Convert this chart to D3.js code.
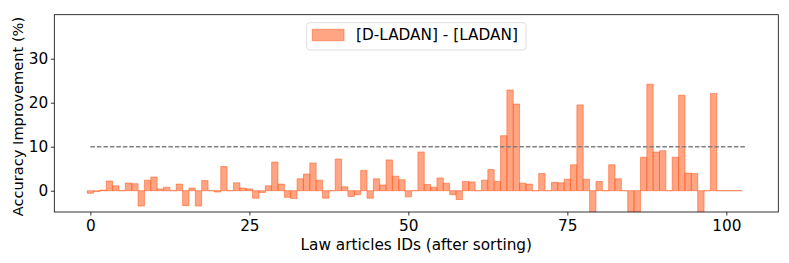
<!DOCTYPE html>
<html>
<head>
<meta charset="utf-8">
<script src="https://cdn.jsdelivr.net/npm/d3@7"></script>
<style>
  body { margin: 0; background: #fff; }
  svg { font-family: "DejaVu Sans", sans-serif; }
</style>
</head>
<body>
<div class="plot"></div>
<script>
// accuracy gain per law article (sorted), one value per article id
var improvement = [
  -0.6, -0.2, 0.15, 2.2, 1.1, 0, 1.75, 1.6, -3.5, 2.4,
  3.1, 0.4, 0.8, 0, 1.5, -3.4, 0.6, -3.5, 2.3, 0,
  -0.3, 5.5, 0, 1.8, 0.6, 0.4, -1.7, -0.4, 1.1, 6.5,
  1.5, -1.5, -1.8, 2.7, 3.8, 6.3, 2.4, -1.7, 0, 7.2,
  0.9, -1.3, -0.9, 4.6, -1.7, 2.7, 1.3, 7.0, 3.3, 2.5,
  -1.4, 0, 8.8, 1.4, 0.8, 2.9, 1.7, -0.9, -2.0, 2.1,
  2.0, 0, 2.4, 4.8, 2.1, 12.5, 22.9, 19.7, 1.7, 1.5,
  0, 3.9, 0, 1.9, 1.8, 2.6, 5.9, 19.5, 2.6, -8,
  2.1, 0, 5.9, 2.7, 0, -8, -8, 7.6, 24.2, 8.8,
  9.1, 0, 7.6, 21.7, 4.0, 3.9, -8, 0, 22.1, 0,
  0, 0, 0
];
var threshold = 10;
var thresholdSpan = [0, 103];
var xTicks = [0, 25, 50, 75, 100];
var yTicks = [0, 10, 20, 30];
var legendLabel = "[D-LADAN] - [LADAN]";

var W = 789, H = 263;
var margin = {top: 14.7, right: 10.7, bottom: 51, left: 54.3},
  width = W - margin.left - margin.right,
  height = H - margin.top - margin.bottom;

var svg = d3.select(".plot")
    .append("svg")
    .attr("width", W)
    .attr("height", H);

var g = svg.append("g")
    .attr("transform", "translate(" + margin.left + "," + margin.top + ")");

var x = d3.scaleLinear()
    .domain([-5.675, 108.175])
    .range([0, width]);

var y = d3.scaleLinear()
    .domain([-4.84, 40])
    .range([height, 0]);

g.append("clipPath").attr("id", "clip")
  .append("rect")
    .attr("width", width)
    .attr("height", height);

var plot = g.append("g").attr("clip-path", "url(#clip)");

// bars as paths so that zero-height bars still show their edge
function barPath(d, i) {
  var x0 = x(i - 0.5), x1 = x(i + 0.5), y0 = y(0), y1 = y(d);
  return "M" + x0 + "," + y0 + "H" + x1 + "V" + y1 + "H" + x0 + "Z";
}

plot.selectAll(".bar")
    .data(improvement)
    .enter()
    .append("path")
      .attr("class", "bar")
      .attr("d", barPath)
      .style("fill", "rgba(255,127,80,0.7)")
      .style("stroke", "rgba(255,69,0,0.45)")
      .style("stroke-width", 1);

plot.append("line")
    .attr("x1", x(thresholdSpan[0]))
    .attr("x2", x(thresholdSpan[1]))
    .attr("y1", y(threshold))
    .attr("y2", y(threshold))
    .style("stroke", "#808080")
    .style("stroke-width", 1.5)
    .style("stroke-dasharray", "4.5,2");

// axes
var axisX = g.append("g")
    .attr("transform", "translate(0," + height + ")")
    .call(d3.axisBottom(x).tickValues(xTicks).tickSize(3.5).tickPadding(5).tickFormat(d3.format("d")));

var axisY = g.append("g")
    .call(d3.axisLeft(y).tickValues(yTicks).tickSize(3.5).tickPadding(2.5).tickFormat(d3.format("d")));

[axisX, axisY].forEach(function(a) {
  a.select(".domain").remove();
  a.selectAll("text").style("font-size", "15.3px").style("font-family", "DejaVu Sans").attr("fill", "#000");
  a.selectAll("line").attr("stroke", "#000").attr("stroke-width", 0.8);
});

// frame
g.append("rect")
    .attr("width", width)
    .attr("height", height)
    .style("fill", "none")
    .style("stroke", "#000")
    .style("stroke-width", 0.8);

svg.append("text")
    .attr("x", margin.left + width / 2)
    .attr("y", 249.5)
    .attr("text-anchor", "middle")
    .style("font-size", "15.3px")
    .text("Law articles IDs (after sorting)");

svg.append("text")
    .attr("transform", "translate(22.5,116.5)rotate(-90)")
    .attr("text-anchor", "middle")
    .style("font-size", "14.6px")
    .text("Accuracy Improvement (%)");

// legend
var lg = svg.append("g").attr("transform", "translate(306.7,22.7)");
lg.append("rect")
    .attr("width", 219.3)
    .attr("height", 27.3)
    .attr("rx", 3)
    .style("fill", "rgba(255,255,255,0.8)")
    .style("stroke", "#d6d6d6")
    .style("stroke-width", 0.8);
lg.append("rect")
    .attr("x", 5.6)
    .attr("y", 6.6)
    .attr("width", 31.7)
    .attr("height", 11.4)
    .style("fill", "rgba(255,127,80,0.7)")
    .style("stroke", "rgba(255,69,0,0.45)")
    .style("stroke-width", 1);
lg.append("text")
    .attr("x", 49.3)
    .attr("y", 17.2)
    .style("font-size", "15.3px")
    .text(legendLabel);
</script>
</body>
</html>
